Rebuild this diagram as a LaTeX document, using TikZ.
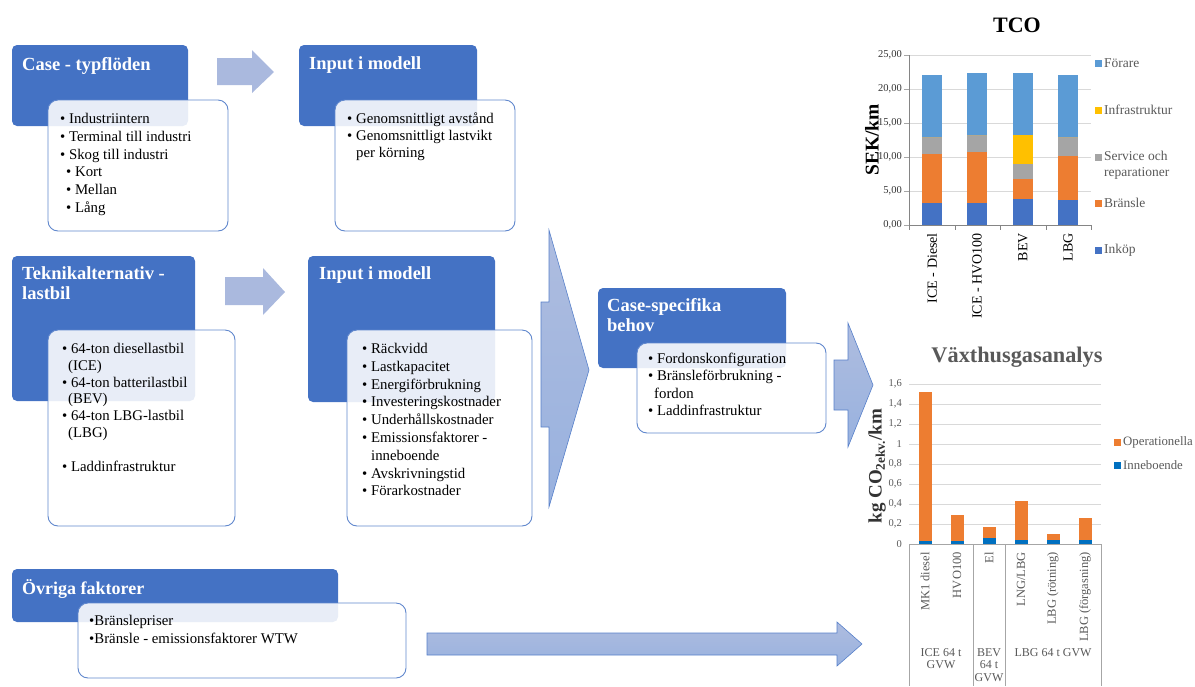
\documentclass[tikz,border=0pt]{standalone}
\usepackage{fontspec}
\setmainfont{Liberation Serif}
\definecolor{cblue}{HTML}{4472C4}
\definecolor{carrow}{HTML}{AAB9DE}
\definecolor{corange}{HTML}{ED7D31}
\definecolor{cgray}{HTML}{A5A5A5}
\definecolor{cyellow}{HTML}{FFC000}
\definecolor{clblue}{HTML}{5B9BD5}
\definecolor{cdblue}{HTML}{0070C0}
\definecolor{cgrid}{HTML}{D9D9D9}
\definecolor{txtgray}{HTML}{595959}
\definecolor{axgray}{HTML}{A6A6A6}
\begin{document}
\begin{tikzpicture}[x=1pt,y=-1pt,
  headbox/.style={fill=cblue, rounded corners=5pt, draw=none, anchor=north west, inner sep=0pt, outer sep=0pt},
  bodybox/.style={draw=cblue!85, line width=0.9pt, fill=white, fill opacity=0.88, rounded corners=10pt, anchor=north west, inner sep=0pt, outer sep=0pt},
  htext/.style={text=white, font=\fontsize{18.5}{20}\selectfont\bfseries, anchor=north west, inner sep=0pt, align=left},
  btext/.style={text=black, font=\fontsize{14.8}{17.8}\selectfont, anchor=north west, inner sep=0pt, align=left},
  flatarrow/.style={fill=carrow, draw=none},
  bigarrow/.style={top color=carrow!95!white, bottom color=cblue!55, draw=cblue!90, line width=0.6pt},
  tick/.style={font=\fontsize{10.5}{11}\selectfont, text=txtgray, anchor=east, inner sep=1pt},
  leg/.style={font=\fontsize{13.5}{16}\selectfont, text=txtgray, anchor=west, inner sep=0pt, align=left},
  catlab/.style={rotate=90, anchor=east, inner sep=0pt, text=txtgray}
]
\useasboundingbox (0,0) rectangle (1195,686);

% ---------- Case - typfloden ----------
\node[headbox, minimum width=176pt, minimum height=81pt] (caseH) at (12,45) {};
\node[htext] (caseT) at (22,57.5) {Case - typflöden};
\node[bodybox, minimum width=180pt, minimum height=131pt] (caseB) at (48,100) {};
\node[btext] (caseL) at (60,113) {• Industriintern\\• Terminal till industri\\• Skog till industri\\\hspace{6pt}• Kort\\\hspace{6pt}• Mellan\\\hspace{6pt}• Lång};

\path[flatarrow] (217,58) -- (252,58) -- (252,50) -- (274,72) -- (252,93) -- (252,85) -- (217,85) -- cycle;

% ---------- Input i modell (top) ----------
\node[headbox, minimum width=178pt, minimum height=81pt] (in1H) at (299,45) {};
\node[htext] (in1T) at (309,56.5) {Input i modell};
\node[bodybox, minimum width=180pt, minimum height=131pt] (in1B) at (335,100) {};
\node[btext, font=\fontsize{14.8}{17}\selectfont] (in1L) at (347,113) {• Genomsnittligt avstånd\\• Genomsnittligt lastvikt\\\hspace{9pt}per körning};

% ---------- Teknikalternativ ----------
\node[headbox, minimum width=183pt, minimum height=145pt] (tekH) at (12,256) {};
\node[htext] (tekT) at (22,266.5) {Teknikalternativ -\\lastbil};
\node[bodybox, minimum width=187pt, minimum height=196pt] (tekB) at (48,330) {};
\node[btext, font=\fontsize{14.8}{16.8}\selectfont] (tekL) at (62,343) {• 64-ton diesellastbil\\\hspace{6pt}(ICE)\\• 64-ton batterilastbil\\\hspace{6pt}(BEV)\\• 64-ton LBG-lastbil\\\hspace{6pt}(LBG)\\[16.8pt]• Laddinfrastruktur};

\path[flatarrow] (225,277) -- (263,277) -- (263,268) -- (285,292) -- (263,315) -- (263,305) -- (225,305) -- cycle;

% ---------- Input i modell (middle) ----------
\node[headbox, minimum width=187pt, minimum height=146pt] (in2H) at (308,256) {};
\node[htext] (in2T) at (319,266.5) {Input i modell};
\node[bodybox, minimum width=185pt, minimum height=196pt] (in2B) at (347,330) {};
\node[btext] (in2L) at (362,343) {• Räckvidd\\• Lastkapacitet\\• Energiförbrukning\\• Investeringskostnader\\• Underhållskostnader\\• Emissionsfaktorer -\\\hspace{9pt}inneboende\\• Avskrivningstid\\• Förarkostnader};

% ---------- big arrow ----------
\path[bigarrow] (541,302) -- (549,302) -- (549,230) -- (589,370) -- (549,507) -- (549,427) -- (541,427) -- cycle;

% ---------- Case-specifika behov ----------
\node[headbox, minimum width=188pt, minimum height=80pt] (csH) at (598,288) {};
\node[htext] (csT) at (607,298.5) {Case-specifika\\behov};
\node[bodybox, minimum width=189pt, minimum height=90pt] (csB) at (637,343) {};
\node[btext, font=\fontsize{14.8}{17.3}\selectfont] (csL) at (648,353) {• Fordonskonfiguration\\• Bränsleförbrukning -\\\hspace{6pt}fordon\\• Laddinfrastruktur};

\path[bigarrow] (834,360) -- (848,360) -- (848,323) -- (873,385) -- (848,447) -- (848,410) -- (834,410) -- cycle;

% ---------- Ovriga faktorer ----------
\node[headbox, minimum width=326pt, minimum height=53pt] (ovH) at (12,569) {};
\node[htext, font=\fontsize{18}{20}\selectfont\bfseries] (ovT) at (22,579) {Övriga faktorer};
\node[bodybox, minimum width=328pt, minimum height=75pt] (ovB) at (78,603) {};
\node[btext, font=\fontsize{14.8}{18}\selectfont] (ovL) at (89,615) {•Bränslepriser\\•Bränsle - emissionsfaktorer WTW};

\path[bigarrow] (427,633) -- (837,633) -- (837,622) -- (862,644) -- (837,666) -- (837,655) -- (427,655) -- cycle;

% ---------- TCO chart ----------
\node[font=\fontsize{22}{24}\selectfont\bfseries] (tcoT) at (1017,25) {TCO};
\foreach \v/\l in {0/{0,00},5/{5,00},10/{10,00},15/{15,00},20/{20,00},25/{25,00}}{
  \draw[cgrid, line width=0.8pt] (909,{225-6.8*\v}) -- (1091,{225-6.8*\v});
  \draw[axgray, line width=0.7pt] (904,{225-6.8*\v}) -- (909,{225-6.8*\v});
  \node[tick, text=black!80] at (903,{225-6.8*\v}) {\l};
}
\foreach \xc/\a/\b/\c/\d/\e in {932/3.3/10.4/12.9/12.9/22.0, 977/3.3/10.8/13.3/13.3/22.3, 1023/3.8/6.8/9.0/13.3/22.3, 1068/3.7/10.1/13.0/13.0/22.0}{
  \fill[cblue]   ({\xc-10},225) rectangle ({\xc+10},{225-6.8*\a});
  \fill[corange] ({\xc-10},{225-6.8*\a}) rectangle ({\xc+10},{225-6.8*\b});
  \fill[cgray]   ({\xc-10},{225-6.8*\b}) rectangle ({\xc+10},{225-6.8*\c});
  \fill[cyellow] ({\xc-10},{225-6.8*\c}) rectangle ({\xc+10},{225-6.8*\d});
  \fill[clblue]  ({\xc-10},{225-6.8*\d}) rectangle ({\xc+10},{225-6.8*\e});
}
\draw[axgray!80!black, line width=0.8pt] (909,55) -- (909,225) -- (1091,225);
\foreach \x in {909,955,1000,1046,1091}{\draw[axgray!80!black, line width=0.8pt] (\x,225) -- (\x,230);}
\foreach \xc/\t in {932/{ICE - Diesel}, 977/{ICE - HVO100}, 1023/{BEV}, 1068/{LBG}}{
  \node[catlab, text=black, font=\fontsize{14}{15}\selectfont] at (\xc,233) {\t};
}
\node[rotate=90, font=\fontsize{19.5}{20}\selectfont\bfseries] (tcoY) at (872,140) {SEK/km};
\foreach \yc/\c in {63/clblue, 110/cyellow, 157/cgray, 203/corange, 250/cblue}{
  \fill[\c] (1095,{\yc-3.5}) rectangle (1102,{\yc+3.5});
}
\node[leg] (lg1) at (1104,63) {Förare};
\node[leg] (lg2) at (1104,110) {Infrastruktur};
\node[leg, anchor=north west] (lg3) at (1104,151) {Service och\\reparationer};
\node[leg] (lg4) at (1104,203) {Bränsle};
\node[leg] (lg5) at (1104,250) {Inköp};

% ---------- GHG chart ----------
\node[font=\fontsize{22.3}{24}\selectfont\bfseries, text=txtgray] (ghgT) at (1017,357) {Växthusgasanalys};
\foreach \v/\l in {0/0,0.2/{0,2},0.4/{0,4},0.6/{0,6},0.8/{0,8},1/1,1.2/{1,2},1.4/{1,4},1.6/{1,6}}{
  \draw[cgrid, line width=0.8pt] (909,{544-100*\v}) -- (1101,{544-100*\v});
  \node[tick] at (903,{544-100*\v}) {\l};
}
\foreach \xc/\a/\b in {925/0.03/1.52, 957/0.03/0.29, 989/0.06/0.17, 1021/0.04/0.43, 1053/0.04/0.10, 1085/0.04/0.26}{
  \fill[cdblue]  ({\xc-6.5},544) rectangle ({\xc+6.5},{544-100*\a});
  \fill[corange] ({\xc-6.5},{544-100*\a}) rectangle ({\xc+6.5},{544-100*\b});
}
\draw[axgray, line width=0.8pt] (909,544) -- (1101,544);
\foreach \x in {909,973,1005,1101}{\draw[axgray, line width=0.8pt] (\x,544) -- (\x,686);}
\foreach \xc/\t in {925/{MK1 diesel}, 957/{HVO100}, 989/{El}, 1021/{LNG/LBG}, 1053/{LBG (rötning)}, 1085/{LBG (förgasning)}}{
  \node[catlab, font=\fontsize{12.5}{13}\selectfont] at (\xc,552) {\t};
}
\node[anchor=north, align=center, inner sep=0pt, text=txtgray, font=\fontsize{12}{12.8}\selectfont] (g1) at (941,648) {ICE 64 t\\GVW};
\node[anchor=north, align=center, inner sep=0pt, text=txtgray, font=\fontsize{12}{12.8}\selectfont] (g2) at (989,648) {BEV\\64 t\\GVW};
\node[anchor=north, align=center, inner sep=0pt, text=txtgray, font=\fontsize{12}{12.8}\selectfont] (g3) at (1053,648) {LBG 64 t GVW};
\node[rotate=90, font=\fontsize{19}{20}\selectfont\bfseries, text=black!80] (ghgY) at (877,466) {kg CO\textsubscript{2ekv.}/km};
\fill[corange] (1114,438.5) rectangle (1121,445.5);
\fill[cdblue] (1114,461.5) rectangle (1121,468.5);
\node[leg, font=\fontsize{12.8}{15}\selectfont] (lg6) at (1123,442) {Operationella};
\node[leg, font=\fontsize{12.8}{15}\selectfont] (lg7) at (1123,465) {Inneboende};
\end{tikzpicture}
\end{document}
